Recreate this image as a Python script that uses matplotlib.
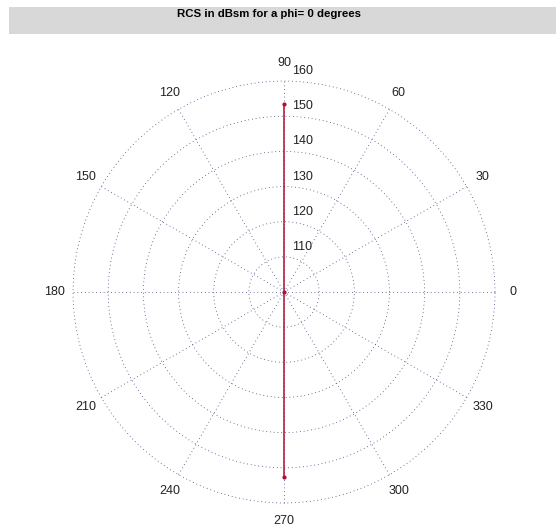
import numpy as np
import matplotlib
matplotlib.use("Agg")
from matplotlib import pyplot as plt
from matplotlib.patches import Rectangle
from matplotlib.transforms import offset_copy

plt.rcParams['font.family'] = ['Liberation Sans', 'DejaVu Sans']

# data
angles_deg = [90, 0, 270]
rcs_dbsm = [153.5, 100.0, 152.5]
r_ticks = [110, 120, 130, 140, 150, 160]
theta_ticks = list(range(0, 360, 30))
title = "RCS in dBsm for a phi= 0 degrees"

fig = plt.figure(figsize=(5.56, 5.31), dpi=100)

# grey title band
fig.patches.append(Rectangle((0.0162, 0.936), 0.99, 0.051, transform=fig.transFigure,
                             facecolor='#d8d8d8', edgecolor='none', zorder=0))
fig.text(0.483, 0.973, title, ha='center', va='center', fontsize=8.2, fontweight='bold')

ax = fig.add_axes([0.1295, 0.0508, 0.7626, 0.7985], projection='polar')
ax.set_rlim(100, 160.3)
ax.set_rticks(r_ticks)
ax.set_yticklabels([])
ax.set_thetagrids(theta_ticks, [str(t) for t in theta_ticks], fontsize=9, color='#222222')
ax.xaxis.set_tick_params(pad=2)
ax.grid(True, color='#46467e', linestyle=(0, (1, 3.5)), linewidth=0.6)
ax.spines['polar'].set_visible(False)

# radial labels (MATLAB style, just right of the 90 deg spoke)
for r in r_ticks:
    tr = offset_copy(ax.transData, fig=fig, x=8, y=4, units='dots')
    ax.text(np.pi / 2, r, str(r), transform=tr, ha='left', va='bottom',
            fontsize=9, color='#222222')

ax.plot(np.deg2rad(angles_deg), rcs_dbsm, color='#b01030', linewidth=1.1,
        marker='.', markersize=4)

fig.savefig("out.png", dpi=100)
